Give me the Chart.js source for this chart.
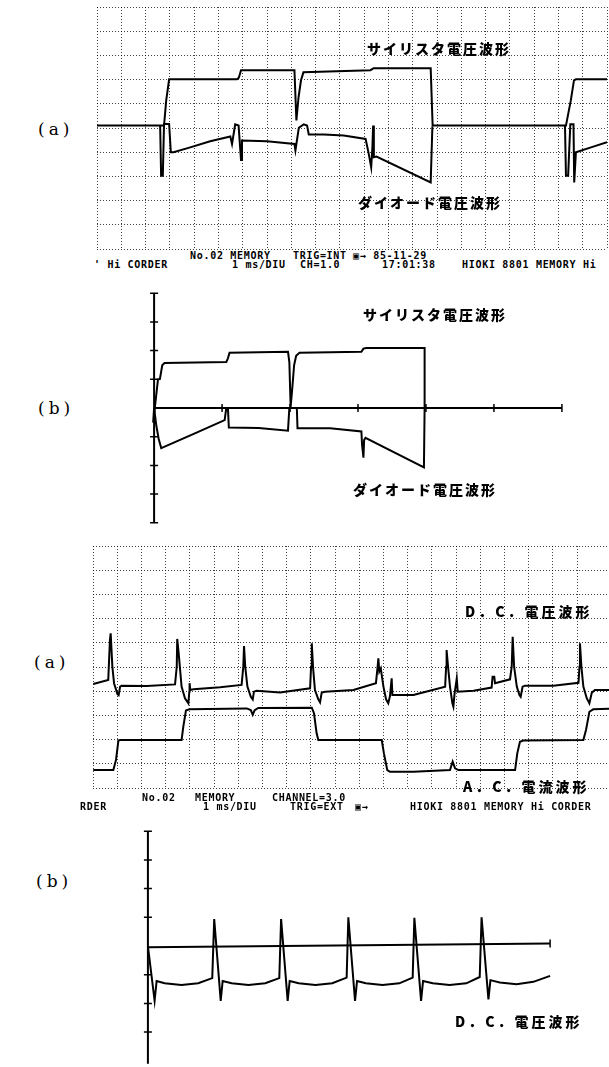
<!DOCTYPE html>
<html><head><meta charset="utf-8">
<script src="https://cdn.jsdelivr.net/npm/chart.js@4.4.0/dist/chart.umd.min.js"></script>
<style>
html,body{margin:0;padding:0;background:#fff}
body{width:609px;height:1067px;position:relative;overflow:hidden}
canvas{position:absolute}
.t{position:absolute;white-space:nowrap;color:#000;line-height:1}
.jp{font-family:"Noto Sans CJK JP";font-weight:900;font-size:14px;letter-spacing:2px}
.jp2{font-family:"Noto Sans CJK JP";font-weight:900;font-size:14px;letter-spacing:3px}
.m{font-family:"DejaVu Sans Mono";font-weight:bold;font-size:10px;letter-spacing:0.7px}
.lb{font-family:"DejaVu Serif";font-size:17px;letter-spacing:4px}
</style>
</head><body>
<canvas id="c1" width="512" height="244" style="left:96px;top:6px"></canvas>
<canvas id="c2" width="446" height="252" style="left:135px;top:282px"></canvas>
<canvas id="c3" width="518" height="244" style="left:92px;top:545px"></canvas>
<canvas id="c4" width="440" height="252" style="left:129px;top:820px"></canvas>

<div class="t lb" style="left:38px;top:121px">(a)</div>
<div class="t lb" style="left:38px;top:400px">(b)</div>
<div class="t lb" style="left:34px;top:654px">(a)</div>
<div class="t lb" style="left:36px;top:873px">(b)</div>

<div class="t jp" style="left:367px;top:41px">サイリスタ電圧波形</div>
<div class="t jp" style="left:358px;top:195px">ダイオード電圧波形</div>
<div class="t jp" style="left:363px;top:307px">サイリスタ電圧波形</div>
<div class="t jp" style="left:353px;top:482px">ダイオード電圧波形</div>
<div class="t jp2" style="left:465px;top:604px">D．C．電圧波形</div>
<div class="t jp2" style="left:463px;top:779px">A．C．電流波形</div>
<div class="t jp2" style="left:455px;top:1014px">D．C．電圧波形</div>

<div class="t m" style="left:190px;top:251px">No.02 MEMORY</div>
<div class="t m" style="left:293px;top:251px">TRIG=INT</div>
<div class="t m" style="left:353px;top:251px">▣→ 85-11-29</div>
<div class="t m" style="left:94px;top:260px">' Hi CORDER</div>
<div class="t m" style="left:232px;top:260px">1 ms/DIU</div>
<div class="t m" style="left:300px;top:260px">CH=1.0</div>
<div class="t m" style="left:382px;top:260px">17:01:38</div>
<div class="t m" style="left:462px;top:260px">HIOKI 8801 MEMORY Hi</div>

<div class="t m" style="left:142px;top:793px">No.02</div>
<div class="t m" style="left:195px;top:793px">MEMORY</div>
<div class="t m" style="left:272px;top:793px">CHANNEL=3.0</div>
<div class="t m" style="left:80px;top:802px">RDER</div>
<div class="t m" style="left:203px;top:802px">1 ms/DIU</div>
<div class="t m" style="left:290px;top:802px">TRIG=EXT</div>
<div class="t m" style="left:355px;top:802px">▣→</div>
<div class="t m" style="left:410px;top:802px">HIOKI 8801 MEMORY Hi CORDER</div>

<script>
// ---- data (x in divisions, y in divisions) ----
const thyristorA = [[0,0.10],[2.67,0.10],[2.76,0.10],[2.85,1.14],[2.97,2.01],[5.76,2.01],[5.84,2.08],[5.93,2.39],[8.13,2.39],[8.21,0.31],[8.30,1.28],[8.40,1.97],[8.50,2.30],[11.26,2.39],[11.39,2.47],[13.74,2.47],[13.82,0.10],[19.31,0.10],[19.51,1.14],[19.64,1.97],[19.72,2.01],[21,2.01]];
const diodeA1 = [[2.60,0.10],[2.64,-1.97],[2.71,-1.97],[2.76,0.17],[2.97,0.17],[3.04,-1.0],[3.15,-1.0],[3.84,-0.80],[4.66,-0.55],[5.49,-0.35],[5.56,-0.66],[5.69,0.15],[5.83,0.10],[5.93,-1.32],[5.97,-0.52],[7.00,-0.55],[8.13,-0.66],[8.17,-0.93],[8.31,0.01],[8.51,0.15],[8.65,0.10],[8.72,-0.27],[9.34,-0.27],[10.16,-0.31],[11.06,-0.45],[11.19,-1.07],[11.29,-1.63],[11.34,-0.80],[11.37,0.10],[11.40,-1.21],[11.51,-1.18],[13.74,-2.25],[13.81,0.06]];
const diodeA2 = [[19.27,0.10],[19.31,-1.97],[19.40,-1.97],[19.49,0.15],[19.62,0.15],[19.65,-2.25],[19.72,-1.0],[20.34,-0.80],[21.0,-0.59]];

const thyristorB = [[0,0],[-0.014,-0.51],[0.057,0.99],[0.086,1.01],[0.12,1.49],[0.153,1.57],[1.062,1.60],[1.086,1.73],[1.11,1.93],[1.97,1.96],[1.99,1.6],[2.009,0.04],[2.03,0.6],[2.06,1.49],[2.09,1.82],[2.14,1.93],[3.05,1.96],[3.08,2.07],[3.12,2.09],[3.98,2.09],[3.98,0]];
const diodeB = [[0,0],[0.033,-0.62],[0.067,-1.07],[0.105,-1.40],[0.115,-1.40],[0.583,-0.90],[1.038,-0.42],[1.062,0],[1.086,0],[1.10,-0.68],[1.54,-0.70],[1.97,-0.79],[1.99,0],[2.10,0],[2.11,-0.71],[2.59,-0.71],[3.05,-0.82],[3.06,-1.29],[3.08,-1.73],[3.09,-1.12],[3.11,-1.04],[3.97,-2.07],[3.98,0]];
const axisXB = [[0,0],[6,0]];
const axisYB = [[0,-4],[0,4]];
const yTicksB = [4,3,2,1,-1,-2,-3,-4];
const xTicksB = [1,2,3,4,5,6];

const dcVoltageA = [[0.01,-0.70],[0.63,-0.54],[0.70,1.12],[0.73,1.39],[0.80,0.01],[0.87,-0.67],[1.01,-1.12],[1.06,-1.16],[1.12,-0.81],[1.18,-0.77],[2.22,-0.79],[3.39,-0.72],[3.46,0.01],[3.48,1.16],[3.54,0.56],[3.66,-0.81],[3.80,-1.29],[3.94,-1.50],[3.98,-1.02],[3.99,-0.67],[4.02,-0.95],[4.15,-0.92],[5.25,-0.84],[6.14,-0.74],[6.21,0.01],[6.24,0.87],[6.29,0.01],[6.38,-0.81],[6.52,-1.23],[6.60,-1.34],[6.65,-1.02],[6.76,-0.98],[7.73,-1.05],[8.97,-0.88],[9.01,0.01],[9.04,0.98],[9.09,0.01],[9.17,-0.95],[9.31,-1.34],[9.38,-1.46],[9.45,-1.06],[9.59,-1.02],[10.76,-0.95],[11.69,-0.67],[11.76,0.01],[11.79,0.36],[11.83,-0.19],[11.89,-0.06],[12.0,-0.81],[12.11,-1.34],[12.20,-1.50],[12.27,-1.20],[12.34,-0.47],[12.37,-1.16],[13.24,-1.16],[14.55,-0.81],[14.59,0.01],[14.61,0.70],[14.67,0.01],[14.75,-0.81],[14.85,-1.50],[14.89,-1.64],[14.94,-1.09],[15.03,-0.47],[15.07,-1.02],[15.72,-0.98],[16.47,-0.85],[16.51,-0.40],[16.58,-0.40],[16.61,-0.67],[17.23,-0.51],[17.30,0.01],[17.34,1.25],[17.40,0.01],[17.51,-0.81],[17.62,-1.16],[17.67,-1.23],[17.75,-0.81],[17.85,-0.77],[19.02,-0.77],[20.06,-0.65],[20.10,0.01],[20.12,0.98],[20.18,0.01],[20.26,-0.81],[20.40,-1.29],[20.51,-1.50],[20.61,-1.06],[20.74,-0.95],[21.32,-0.95]];
const acCurrentA = [[0.01,-4.26],[0.84,-4.26],[0.95,-3.84],[1.05,-3.04],[1.12,-3.02],[3.66,-3.02],[3.73,-2.47],[3.84,-1.80],[3.98,-1.75],[6.35,-1.71],[6.52,-1.78],[6.60,-1.98],[6.68,-1.78],[6.83,-1.69],[9.04,-1.68],[9.13,-1.91],[9.24,-2.74],[9.31,-3.02],[11.93,-3.02],[12.02,-3.57],[12.16,-4.26],[12.27,-4.33],[13.24,-4.33],[14.75,-4.26],[14.86,-3.91],[14.96,-4.19],[15.10,-4.26],[17.44,-4.26],[17.53,-3.57],[17.64,-3.09],[17.78,-3.04],[20.26,-3.02],[20.37,-2.60],[20.51,-1.85],[20.67,-1.75],[21.32,-1.72]];

const dcVoltageB = [[0,0],[0.10,-1.91],[0.13,-1.22],[0.25,-1.30],[0.5,-1.36],[0.75,-1.30],[0.96,-1.12],[0.989,0.94],[1.086,-1.91],[1.115,-1.22],[1.25,-1.30],[1.5,-1.36],[1.75,-1.30],[1.96,-1.12],[1.987,0.94],[2.085,-1.91],[2.115,-1.22],[2.25,-1.30],[2.5,-1.36],[2.75,-1.30],[2.965,-1.10],[2.99,1.0],[3.09,-1.91],[3.12,-1.22],[3.25,-1.30],[3.5,-1.36],[3.75,-1.30],[3.95,-1.10],[3.975,0.98],[4.075,-1.91],[4.105,-1.22],[4.25,-1.30],[4.5,-1.36],[4.75,-1.30],[4.95,-1.08],[4.978,1.0],[5.08,-1.86],[5.11,-1.19],[5.25,-1.27],[5.5,-1.33],[5.75,-1.25],[6.0,-1.04]];
const axisXD = [[0,-0.04],[6,0.09]];
const axisYD = [[0,-4.1],[0,4]];
const yTicksD = [4,3,2,1,-1,-2,-3];
const xTicksD = [6];

// ---- helpers ----
const xy = a => a.map(p => ({x:p[0], y:p[1]}));
const trace = (a, w) => ({data: xy(a), borderColor:'#000', borderWidth: w||2, pointRadius:0, fill:false, tension:0});
const marks = (pts, rot) => ({data: pts, showLine:false, pointStyle:'line', pointRadius:4, pointBorderWidth:1.5, pointBorderColor:'#000', pointBackgroundColor:'#000', pointRotation: rot, pointHoverRadius:0});

function scale(min, max, grid) {
  return {
    type:'linear', min, max, display: grid,
    ticks:{display:false, stepSize:1},
    grid:{display:grid, color:'rgba(0,0,0,0.75)', lineWidth:1, drawTicks:false},
    border:{display:false, dash:[1,2]},
    afterBuildTicks: s => { s.ticks = s.ticks.filter(t => Math.abs(t.value - Math.round(t.value)) < 1e-6); }
  };
}
function make(id, datasets, xr, yr, grid) {
  new Chart(document.getElementById(id), {
    type:'line',
    data:{datasets},
    options:{
      responsive:false, animation:false, devicePixelRatio:1,
      layout:{padding: grid ? 1 : 0},
      plugins:{legend:{display:false}, tooltip:{enabled:false}},
      events:[],
      scales:{x: scale(xr[0], xr[1], grid), y: scale(yr[0], yr[1], grid)}
    }
  });
}

make('c1', [trace(thyristorA), trace(diodeA1), trace(diodeA2)], [0,21], [-5,5], true);
make('c2', [trace(axisXB), trace(axisYB), trace(thyristorB), trace(diodeB),
  marks(yTicksB.map(v => ({x:0, y:v})), 0), marks(xTicksB.map(v => ({x:v, y:0})), 90)], [-0.2,6.2], [-4.2,4.2], false);
make('c3', [trace(dcVoltageA), trace(acCurrentA)], [0,21.32], [-5,5], true);
make('c4', [trace(axisXD), trace(axisYD), trace(dcVoltageB),
  marks(yTicksD.map(v => ({x:0, y:v})), 0), marks(xTicksD.map(v => ({x:v, y:0.09})), 90)], [-0.2,6.2], [-4.2,4.2], false);
</script>
</body></html>
